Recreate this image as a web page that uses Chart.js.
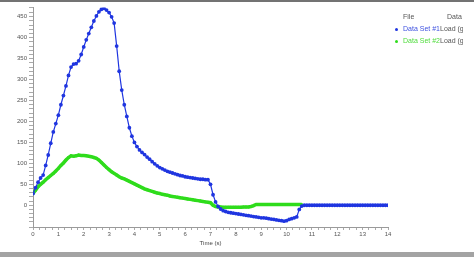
<!DOCTYPE html>
<html>
<head>
<meta charset="utf-8">
<script src="https://cdn.jsdelivr.net/npm/chart.js@4/dist/chart.umd.min.js"></script>
<style>
  html, body { margin: 0; padding: 0; background: #fff; }
  #wrap { position: relative; width: 474px; height: 257px; overflow: hidden; }
  #topbar { position: absolute; left: 0; top: 0; width: 474px; height: 2px; background: #737373; }
  #botbar { position: absolute; left: 0; top: 252px; width: 474px; height: 5px; background: #a3a3a3; }
  #box { position: absolute; left: 0; top: 2px; width: 474px; height: 250px; }
  #legend { position: absolute; left: 393px; top: 11px; width: 70px; overflow: hidden;
            font-family: "Liberation Sans", sans-serif; font-size: 7px; white-space: nowrap; }
  #legend .row { position: relative; height: 12px; line-height: 12px; }
  #legend .dot { position: absolute; left: 2px; top: 5px; width: 3px; height: 3px; border-radius: 2px; }
  #legend .a { position: absolute; left: 10px; }
  #legend .b { position: absolute; left: 47px; }
  #legend .h { position: absolute; left: 54px; }
</style>
</head>
<body>
<div id="wrap">
  <div id="topbar"></div>
  <div id="box"><canvas id="myChart"></canvas></div>
  <div id="legend"></div>
  <div id="botbar"></div>
</div>
<script>
const times = [
  0.0, 0.1, 0.2, 0.3, 0.4, 0.5, 0.6, 0.7, 0.8, 0.9,
  1.0, 1.1, 1.2, 1.3, 1.4, 1.5, 1.6, 1.7, 1.8, 1.9,
  2.0, 2.1, 2.2, 2.3, 2.4, 2.5, 2.6, 2.7, 2.8, 2.9,
  3.0, 3.1, 3.2, 3.3, 3.4, 3.5, 3.6, 3.7, 3.8, 3.9,
  4.0, 4.1, 4.2, 4.3, 4.4, 4.5, 4.6, 4.7, 4.8, 4.9,
  5.0, 5.1, 5.2, 5.3, 5.4, 5.5, 5.6, 5.7, 5.8, 5.9,
  6.0, 6.1, 6.2, 6.3, 6.4, 6.5, 6.6, 6.7, 6.8, 6.9,
  7.0, 7.1, 7.2, 7.3, 7.4, 7.5, 7.6, 7.7, 7.8, 7.9,
  8.0, 8.1, 8.2, 8.3, 8.4, 8.5, 8.6, 8.7, 8.8, 8.9,
  9.0, 9.1, 9.2, 9.3, 9.4, 9.5, 9.6, 9.7, 9.8, 9.9,
  10.0, 10.1, 10.2, 10.3, 10.4, 10.5, 10.6, 10.7, 10.8, 10.9,
  11.0, 11.1, 11.2, 11.3, 11.4, 11.5, 11.6, 11.7, 11.8, 11.9,
  12.0, 12.1, 12.2, 12.3, 12.4, 12.5, 12.6, 12.7, 12.8, 12.9,
  13.0, 13.1, 13.2, 13.3, 13.4, 13.5, 13.6, 13.7, 13.8, 13.9,
  14.0
];

// Data Set #1 load (g)
const set1 = [
  28, 42, 55, 65, 72, 95, 120, 148, 175, 195,
  215, 240, 262, 285, 310, 330, 337, 338, 345, 360,
  378, 395, 410, 425, 440, 452, 462, 468, 470, 466,
  460, 450, 435, 380, 320, 275, 240, 212, 185, 165,
  150, 140, 132, 126, 121, 115, 110, 104, 99, 94,
  90, 87, 84, 81, 79, 77, 75, 73, 71, 70,
  68, 67, 66, 65, 64, 63, 62, 62, 61, 61,
  50, 25, 8, -3, -9, -13, -15, -17, -18, -19,
  -20, -21, -22, -23, -24, -25, -26, -27, -28, -29,
  -30, -30, -31, -32, -33, -34, -35, -36, -37, -38,
  -37, -34, -32, -30, -28, -10, -2, 0, 0, 0,
  0, 0, 0, 0, 0, 0, 0, 0, 0, 0,
  0, 0, 0, 0, 0, 0, 0, 0, 0, 0,
  0, 0, 0, 0, 0, 0, 0, 0, 0, 0,
  0
];

// Data Set #2 load (g), recorded up to 10.6 s
const set2 = [
  28, 36, 44, 50, 55, 61, 66, 71, 76, 82,
  88, 95, 101, 108, 114, 118, 117, 118, 120, 119,
  119, 118, 117, 116, 114, 112, 108, 102, 96, 90,
  85, 80, 76, 72, 68, 65, 63, 60, 57, 54,
  51, 48, 45, 42, 39, 37, 35, 33, 31, 29,
  28, 26, 25, 24, 22, 21, 20, 19, 18, 17,
  16, 15, 14, 13, 12, 11, 10, 9, 8, 7,
  6, 0, -3, -4, -4, -5, -5, -5, -5, -5,
  -5, -5, -5, -4, -4, -4, -3, -1, 2, 2,
  2, 2, 2, 2, 2, 2, 2, 2, 2, 2,
  2, 2, 2, 2, 2, 2, 2
];

const seriesNames = ['Data Set #1', 'Data Set #2'];
const seriesField = ['Load (g)', 'Load (g)'];
const seriesColors = ['#1f35e0', '#2fdc1c'];
const legendTextColors = ['#3f52e0', '#4fdc3c'];

document.addEventListener('DOMContentLoaded', () => {
  const ctx = document.getElementById('myChart').getContext('2d');

  const toPoints = vals => vals.map((v, i) => ({ x: times[i], y: v }));

  const data = {
    datasets: [{
      label: seriesNames[0],
      data: toPoints(set1),
      borderColor: seriesColors[0],
      backgroundColor: seriesColors[0],
      borderWidth: 1.2,
      pointRadius: 1.9,
      pointBorderWidth: 0,
      pointHoverRadius: 1.9
    }, {
      label: seriesNames[1],
      data: toPoints(set2),
      borderColor: seriesColors[1],
      backgroundColor: seriesColors[1],
      borderWidth: 3.5,
      pointRadius: 1.5,
      pointBorderWidth: 0,
      pointHoverRadius: 1.5
    }]
  };

  const tickFont = { family: 'Liberation Sans', size: 6 };

  const config = {
    type: 'line',
    data: data,
    options: {
      responsive: true,
      maintainAspectRatio: false,
      animation: false,
      layout: {
        padding: { top: 3, right: 86, bottom: 5, left: 0 }
      },
      plugins: {
        legend: { display: false },
        tooltip: { enabled: false }
      },
      scales: {
        x: {
          type: 'linear',
          min: 0,
          max: 14,
          afterFit: s => { s.height = 20; },
          border: { color: '#9a9a9a' },
          grid: { drawOnChartArea: false, tickLength: 3, color: '#aaaaaa' },
          ticks: {
            stepSize: 0.25,
            autoSkip: false,
            maxRotation: 0,
            padding: 1,
            color: '#555',
            font: tickFont,
            callback: v => (Number.isInteger(v) ? v : '')
          },
          title: {
            display: true,
            text: 'Time (s)',
            color: '#444',
            font: tickFont,
            padding: { top: 0, bottom: 0 }
          }
        },
        y: {
          min: -52,
          max: 472,
          afterFit: s => { s.width = 33; },
          border: { color: '#9a9a9a' },
          grid: { drawOnChartArea: false, tickLength: 4, color: '#aaaaaa' },
          ticks: {
            stepSize: 10,
            autoSkip: false,
            padding: 2,
            color: '#555',
            font: tickFont,
            callback: v => (v % 50 === 0 ? v : '')
          }
        }
      }
    }
  };

  new Chart(ctx, config);

  const legend = document.getElementById('legend');
  let html = '<div class="row" style="color:#555"><span class="a">File</span><span class="h">Data</span></div>';
  seriesNames.forEach((name, i) => {
    html += '<div class="row" style="color:' + legendTextColors[i] + '">' +
      '<span class="dot" style="background:' + seriesColors[i] + '"></span>' +
      '<span class="a">' + name + '</span>' +
      '<span class="b" style="color:#555">' + seriesField[i] + '</span></div>';
  });
  legend.innerHTML = html;
});
</script>
</body>
</html>
